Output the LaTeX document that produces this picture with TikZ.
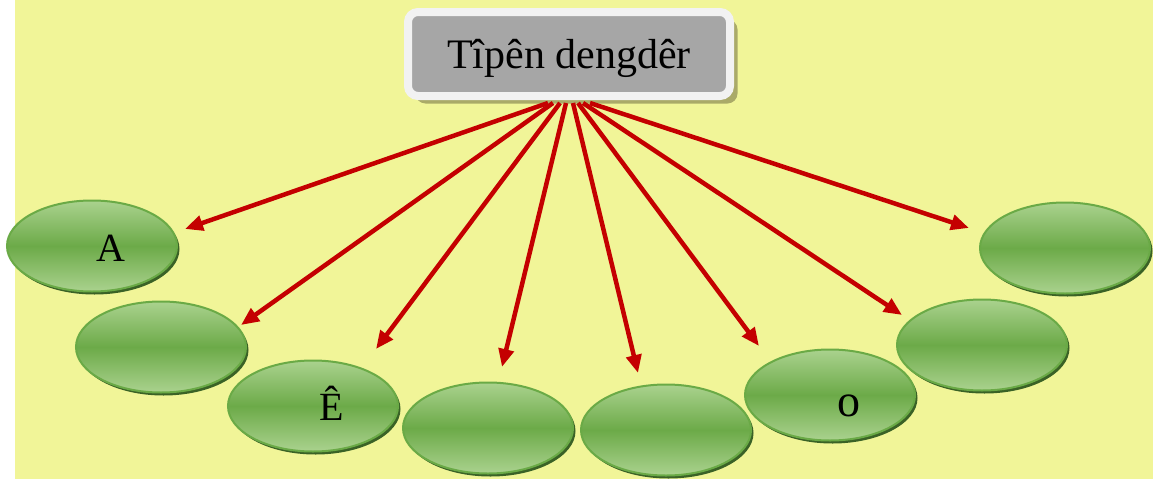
\documentclass[tikz,border=0pt]{standalone}
\usepackage{fontspec}
\setmainfont{Liberation Serif}
\usetikzlibrary{arrows.meta,shadows,shapes.geometric}
\definecolor{bgyellow}{RGB}{241,245,152}
\definecolor{gtop}{RGB}{170,210,142}
\definecolor{gmid}{RGB}{108,170,72}
\definecolor{gline}{RGB}{106,170,70}
\definecolor{gshadow}{RGB}{58,98,38}
\definecolor{arrred}{RGB}{196,0,0}
\definecolor{boxgray}{RGB}{166,166,166}
\definecolor{boxwhite}{RGB}{242,242,242}
\definecolor{boxshadow}{RGB}{170,170,104}
\tikzset{
  oval/.style={ellipse, minimum width=170pt, minimum height=91pt, inner sep=0pt,
    draw=gline, line width=2pt,
    top color=gtop, bottom color=gtop, middle color=gmid,
    drop shadow={shadow xshift=2.5pt, shadow yshift=-3pt, fill=gshadow, opacity=1}},
  topbox/.style={rectangle, rounded corners=10pt, fill=boxgray, draw=boxwhite,
    line width=8pt, minimum width=322pt, minimum height=84pt,
    text height=38pt, text depth=10pt,
    font=\fontsize{42}{50}\selectfont,
    drop shadow={shadow xshift=7.5pt, shadow yshift=-7.5pt, fill=boxshadow, opacity=1}},
  lbl/.style={font=\fontsize{40}{48}\selectfont, inner sep=0pt, anchor=base},
  arr/.style={draw=arrred, line width=4.5pt, -{Triangle[length=18pt,width=15pt]}}
}
\begin{document}
\begin{tikzpicture}[x=1pt,y=-1pt]
\useasboundingbox (0,0) rectangle (1153,479);
\fill[white] (0,0) rectangle (1153,479);
\fill[bgyellow] (15,0) rectangle (1153,479);

% ellipses
\node[oval] (e1) at (92,246) {};
\node[oval] (e2) at (161,347) {};
\node[oval] (e3) at (313,406) {};
\node[oval] (e4) at (488,428) {};
\node[oval] (e5) at (666,430) {};
\node[oval] (e6) at (830,395) {};
\node[oval] (e7) at (982,345) {};
\node[oval] (e8) at (1065,248) {};

% labels
\node[lbl] (lA) at (111,261) {A};
\node[lbl] (lE) at (332,420) {Ê};
\node[lbl, font=\fontsize{46}{54}\selectfont] (lO) at (849,416) {o};

% top box
\node[topbox] (top) at (569,54) {Tîpên dengdêr};

% arrow tips
\coordinate (t1) at (185,229);
\coordinate (t2) at (241,325);
\coordinate (t3) at (376,349);
\coordinate (t4) at (502,367);
\coordinate (t5) at (638,373);
\coordinate (t6) at (759,346);
\coordinate (t7) at (902,315);
\coordinate (t8) at (969,228);

\draw[arr] ([xshift=-21pt,yshift=-3pt]top.south) -- (t1);
\draw[arr] ([xshift=-16pt,yshift=-3pt]top.south) -- (t2);
\draw[arr] ([xshift=-9pt,yshift=-3pt]top.south) -- (t3);
\draw[arr] ([xshift=-3pt,yshift=-3pt]top.south) -- (t4);
\draw[arr] ([xshift=4pt,yshift=-3pt]top.south) -- (t5);
\draw[arr] ([xshift=9pt,yshift=-3pt]top.south) -- (t6);
\draw[arr] ([xshift=14pt,yshift=-3pt]top.south) -- (t7);
\draw[arr] ([xshift=21pt,yshift=-3pt]top.south) -- (t8);
\end{tikzpicture}
\end{document}
